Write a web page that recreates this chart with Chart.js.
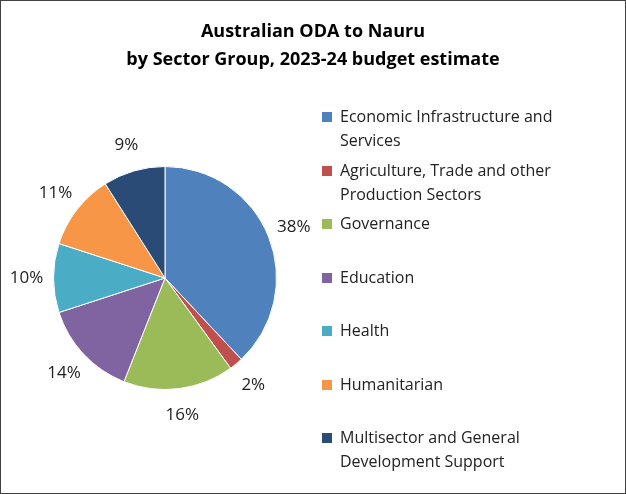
<!DOCTYPE html>
<html><head><meta charset="utf-8">
<script src="https://cdn.jsdelivr.net/npm/chart.js@4"></script>
<style>
body{margin:0;width:626px;height:494px;overflow:hidden;background:#fff;font-family:"Open Sans",sans-serif}
#wrap{position:absolute;left:0;top:0;width:624px;height:492px;border:1px solid #404040}
#title{position:absolute;left:0;top:16px;width:626px;text-align:center;font-weight:bold;font-size:18px;line-height:28px;color:#000}
#legend{position:absolute;left:322px;top:104px;font-size:16px;color:#222}
.it{position:absolute;left:0;width:300px;line-height:24px}
.sw{position:absolute;left:0;top:8px;width:10px;height:10px}
.tx{position:absolute;left:18px;top:0;width:262px}
canvas{position:absolute;left:0;top:0}
</style></head><body>
<div id="wrap"></div>
<canvas id="c" width="626" height="494"></canvas>
<div id="title">Australian ODA to Nauru<br>by Sector Group, 2023-24 budget estimate</div>
<div id="legend"></div>
<script>
const categories=["Economic Infrastructure and Services","Agriculture, Trade and other Production Sectors","Governance","Education","Health","Humanitarian","Multisector and General Development Support"];
const values=[38,2,16,14,10,11,9];
const colors=["#4F81BD","#C0504D","#9BBB59","#8064A2","#4BACC6","#F79646","#2A4B76"];
const lg=document.getElementById('legend');
categories.forEach((c,i)=>{const d=document.createElement('div');d.className='it';d.style.top=(i*53.5)+'px';
d.innerHTML='<div class="sw" style="background:'+colors[i]+'"></div><div class="tx">'+c+'</div>';lg.appendChild(d);});
const labelPlugin={id:'lbl',afterDatasetsDraw(ch){const ctx=ch.ctx;ctx.save();ctx.font='17px "Open Sans", sans-serif';ctx.fillStyle='#222';ctx.textAlign='center';ctx.textBaseline='middle';
ch.getDatasetMeta(0).data.forEach((a,i)=>{const m=(a.startAngle+a.endAngle)/2;const r=a.outerRadius+27;ctx.fillText(values[i]+'%',a.x+Math.cos(m)*r,a.y+Math.sin(m)*r);});ctx.restore();}};
new Chart(document.getElementById('c'),{type:'pie',data:{labels:categories,datasets:[{data:values,backgroundColor:colors,borderColor:'#fff',borderWidth:1}]},
options:{responsive:false,animation:false,layout:{padding:{left:53,right:349,top:166,bottom:104}},plugins:{legend:{display:false},tooltip:{enabled:false}}},plugins:[labelPlugin]});
</script></body></html>
